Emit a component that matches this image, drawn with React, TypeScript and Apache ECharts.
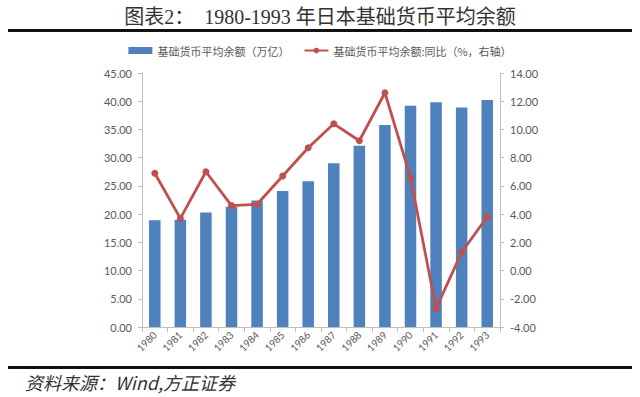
import React, { useEffect, useRef } from "react";
import * as echarts from "echarts";

const years = ["1980","1981","1982","1983","1984","1985","1986","1987","1988","1989","1990","1991","1992","1993"];
const baseMoney = [18.9, 19.0, 20.3, 21.3, 22.4, 24.1, 25.8, 29.0, 32.1, 35.8, 39.2, 39.8, 38.9, 40.2];
const yoy = [6.9, 3.7, 7.0, 4.6, 4.7, 6.7, 8.7, 10.4, 9.2, 12.6, 6.6, -2.7, 1.3, 3.8];
const barName = "基础货币平均余额（万亿）";
const lineName = "基础货币平均余额:同比（%，右轴）";
const titleText = "图表2：  1980-1993 年日本基础货币平均余额";
const sourceText = "资料来源：Wind,方正证券";

export default function App() {
  const ref = useRef<HTMLDivElement>(null);
  useEffect(() => {
    if (!ref.current) return;
    const chart = echarts.init(ref.current, null, { renderer: "svg" });
    const axisLabel = { color: "#595959", fontFamily: "Lato", fontSize: 11 };
    chart.setOption({
      animation: false,
      backgroundColor: "#ffffff",
      title: {
        text: titleText,
        left: "center",
        top: 2,
        textStyle: {
          fontFamily: "'Liberation Serif', 'Noto Sans CJK SC'",
          fontSize: 20,
          fontWeight: "normal",
          color: "#333",
        },
      },
      legend: {
        top: 40,
        left: "center",
        itemGap: 14,
        textStyle: { fontFamily: "'Noto Sans CJK SC'", fontSize: 11, color: "#595959" },
        data: [
          { name: barName, icon: "rect", itemStyle: { color: "#4F81BD" } },
          { name: lineName },
        ],
        itemWidth: 24,
        itemHeight: 7,
      },
      graphic: [
        { type: "rect", shape: { x: 8, y: 29, width: 624, height: 3 }, style: { fill: "#111" } },
        { type: "rect", shape: { x: 8, y: 366, width: 624, height: 3 }, style: { fill: "#111" } },
        {
          type: "text",
          left: 25,
          top: 373,
          style: {
            text: sourceText,
            font: "italic 18px 'Noto Sans CJK SC'",
            fill: "#333",
          },
        },
      ],
      grid: { left: 142, right: 140, top: 73, bottom: 70 },
      xAxis: {
        type: "category",
        data: years,
        axisLine: { lineStyle: { color: "#bfbfbf" } },
        axisTick: { show: true, alignWithLabel: false, lineStyle: { color: "#bfbfbf" } },
        axisLabel: { ...axisLabel, fontSize: 10, rotate: 45, interval: 0, margin: 6 },
      },
      yAxis: [
        {
          type: "value",
          min: 0,
          max: 45,
          interval: 5,
          splitLine: { show: false },
          axisLine: { show: true, lineStyle: { color: "#bfbfbf" } },
          axisTick: { show: true, length: 4, lineStyle: { color: "#bfbfbf" } },
          axisLabel: { ...axisLabel, margin: 10, formatter: (v: number) => v.toFixed(2) },
        },
        {
          type: "value",
          min: -4,
          max: 14,
          interval: 2,
          splitLine: { show: false },
          axisLine: { show: true, lineStyle: { color: "#bfbfbf" } },
          axisTick: { show: true, length: 4, lineStyle: { color: "#bfbfbf" } },
          axisLabel: { ...axisLabel, margin: 10, formatter: (v: number) => v.toFixed(2) },
        },
      ],
      series: [
        {
          name: barName,
          type: "bar",
          data: baseMoney,
          barWidth: "45%",
          itemStyle: { color: "#4F81BD" },
        },
        {
          name: lineName,
          type: "line",
          yAxisIndex: 1,
          data: yoy,
          symbol: "circle",
          symbolSize: 7,
          lineStyle: { color: "#C0504D", width: 2.8 },
          itemStyle: { color: "#C0504D" },
        },
      ],
    });
    return () => chart.dispose();
  }, []);
  return <div ref={ref} style={{ width: 640, height: 397, position: "absolute", left: 0, top: 0 }} />;
}
